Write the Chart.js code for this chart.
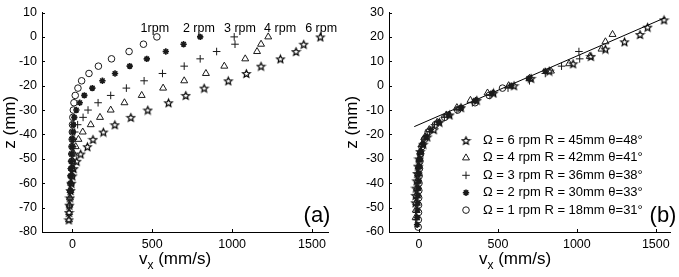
<!DOCTYPE html>
<html>
<head>
<meta charset="utf-8">
<script src="https://cdn.jsdelivr.net/npm/chart.js@4.4.1/dist/chart.umd.min.js"></script>
<style>
    html, body { margin: 0; padding: 0; background: #fff; }
    #wrap { position: relative; width: 679px; height: 277px; }
    .panel { position: absolute; top: 0; }
    #panelA { left: 0; }
    #panelB { left: 340px; }
</style>
</head>
<body>
<div id="wrap">
    <div class="panel" id="panelA"><canvas id="chartA" width="340" height="277"></canvas></div>
    <div class="panel" id="panelB"><canvas id="chartB" width="339" height="277"></canvas></div>
</div>
<script>
// depths (mm) of panel (a), same grid for every run
var zA = [0, -3, -6, -9, -12, -15, -18, -21, -24, -27, -30, -33, -36, -39, -42, -45, -48, -51, -54, -57, -60, -63, -66, -69, -72, -75];

// velocities vx (mm/s)
var v1rpm = [529, 445, 355, 245, 163, 104, 58, 35, 18, 10, 6, 3, 1, 0, -1, -2, -3, -3, -4, -5];
var v2rpm = [800, 696, 585, 466, 359, 267, 188, 125, 75, 46, 25, 12, 5, 2, 0, -2, -4, -6, -8, -10, -11, -12];
var v3rpm = [1013, 1018, 903, 800, 700, 564, 449, 338, 240, 161, 98, 67, 33, 15, 6, 2, -2, -5, -7, -9, -11, -13, -15, -17];
var v4rpm = [1226, 1181, 1156, 1082, 951, 836, 700, 568, 434, 326, 240, 173, 115, 65, 38, 21, 10, 3, -2, -6, -9, -12, -15, -18, -20, -21];
var v6rpm = [1552, 1448, 1400, 1302, 1181, 1089, 976, 825, 710, 602, 472, 366, 266, 194, 129, 94, 52, 27, 8, 0, -6, -11, -15, -19, -21, -22];

// depths of panel (b), each run moved onto the common line
var zB1 = [-1, -4, -7, -10, -13, -16, -19, -22, -25, -28, -31, -34, -37, -40, -43, -46, -49, -52, -55, -58];
var zB2 = [6, 3, 0, -3, -6, -9, -12, -15, -18, -21, -24, -27, -30, -33, -36, -39, -42, -45, -48, -51, -54, -57];
var zB3 = [14, 11, 8, 5, 2, -1, -4, -7, -10, -13, -16, -19, -22, -25, -28, -31, -34, -37, -40, -43, -46, -49, -52, -55];
var zB4 = [21, 18, 15, 12, 9, 6, 3, 0, -3, -6, -9, -12, -15, -18, -21, -24, -27, -30, -33, -36, -39, -42, -45, -48, -51, -54];
var zB6 = [27, 24, 21, 18, 15, 12, 9, 6, 3, 0, -3, -6, -9, -12, -15, -18, -21, -24, -27, -30, -33, -36, -39, -42, -45, -48];

// fitted line of panel (b)
var fitV = [-30, 1560];
var fitZ = [-16.8, 27.9];

var rpmLabels = ["1rpm", "2 rpm", "3 rpm", "4 rpm", "6 rpm"];
var rpmLabelV = [516, 792, 1049, 1300, 1557];
var rpmLabelZ = [3.6, 3.6, 3.6, 3.6, 3.6];

var legendLabels = [
    "\u03A9 = 6 rpm R = 45mm \u03B8=48\u00B0",
    "\u03A9 = 4 rpm R = 42mm \u03B8=41\u00B0",
    "\u03A9 = 3 rpm R = 36mm \u03B8=38\u00B0",
    "\u03A9 = 2 rpm R = 30mm \u03B8=33\u00B0",
    "\u03A9 = 1 rpm R = 18mm \u03B8=31\u00B0"
];

var xTicks = [0, 500, 1000, 1500];
var yTicksA = [10, 0, -10, -20, -30, -40, -50, -60, -70, -80];
var yTicksB = [30, 20, 10, 0, -10, -20, -30, -40, -50, -60];

var FONT = "'Liberation Sans', Arial, sans-serif";
var INK = '#1a1a1a';

function pts(v, z) {
    return v.map(function (x, i) { return { x: x, y: z[i] }; });
}

function makePentagram(r) {
    var s = Math.ceil(r * 2 + 3);
    var c = document.createElement('canvas');
    c.width = s; c.height = s;
    var g = c.getContext('2d');
    g.strokeStyle = '#000';
    g.lineWidth = 1.2;
    g.beginPath();
    for (var i = 0; i < 10; i++) {
        var rr = i % 2 ? r * 0.45 : r;
        var a = -Math.PI / 2 + i * Math.PI / 5;
        g.lineTo(s / 2 + rr * Math.cos(a), s / 2 + 0.5 + rr * Math.sin(a));
    }
    g.closePath();
    g.stroke();
    return c;
}
var pentagram = makePentagram(4);

var markers = [
    { pointStyle: 'circle', pointRadius: 3.3, pointBorderWidth: 1 },
    { pointStyle: 'star', pointRadius: 3.2, pointBorderWidth: 1.6 },
    { pointStyle: 'cross', pointRadius: 3.8, pointBorderWidth: 1 },
    { pointStyle: 'triangle', pointRadius: 4, pointBorderWidth: 1 },
    { pointStyle: pentagram, pointRadius: 4, pointBorderWidth: 1 }
];

function series(v, z, k) {
    var m = markers[k];
    return {
        data: pts(v, z),
        pointStyle: m.pointStyle,
        pointRadius: m.pointRadius,
        pointBorderWidth: m.pointBorderWidth,
        pointBorderColor: INK,
        pointBackgroundColor: 'rgba(0,0,0,0)',
        showLine: false
    };
}

function axis(min, max, ticks, isX, size) {
    return {
        type: 'linear',
        min: min,
        max: max,
        grid: { display: false, drawTicks: false },
        border: { display: true, color: '#000', width: 1 },
        afterBuildTicks: function (s) {
            s.ticks = ticks.map(function (t) { return { value: t }; });
        },
        afterFit: function (s) {
            if (isX) s.height = size; else s.width = size;
        },
        ticks: {
            color: '#000',
            font: { family: FONT, size: 12.5 },
            padding: 5,
            autoSkip: false,
            maxRotation: 0,
            callback: function (v) { return String(v); }
        }
    };
}

// small tick marks pointing into the plot, as in the original figure
var inwardTicks = {
    id: 'inwardTicks',
    afterDraw: function (chart) {
        var ctx = chart.ctx, a = chart.chartArea;
        var sx = chart.scales.x, sy = chart.scales.y;
        ctx.save();
        ctx.strokeStyle = '#000';
        ctx.lineWidth = 1;
        ctx.beginPath();
        sx.ticks.forEach(function (t) {
            var px = Math.round(sx.getPixelForValue(t.value)) + 0.5;
            ctx.moveTo(px, a.bottom);
            ctx.lineTo(px, a.bottom - 3);
        });
        sy.ticks.forEach(function (t) {
            var py = Math.round(sy.getPixelForValue(t.value)) + 0.5;
            ctx.moveTo(a.left, py);
            ctx.lineTo(a.left + 3, py);
        });
        ctx.stroke();
        ctx.restore();
    }
};

function drawTitles(chart, xCenter, zX, tag, tagX) {
    var ctx = chart.ctx, a = chart.chartArea;
    ctx.save();
    ctx.fillStyle = '#000';
    ctx.textBaseline = 'alphabetic';
    ctx.textAlign = 'left';
    var big = '17px ' + FONT, small = '12px ' + FONT;
    ctx.font = big;
    var w1 = ctx.measureText('v').width;
    var w3 = ctx.measureText(' (mm/s)').width;
    ctx.font = small;
    var w2 = ctx.measureText('x').width;
    var x0 = a.left + xCenter - (w1 + w2 + w3) / 2;
    var base = 264;
    ctx.font = big;
    ctx.fillText('v', x0, base);
    ctx.font = small;
    ctx.fillText('x', x0 + w1, base + 5);
    ctx.font = big;
    ctx.fillText(' (mm/s)', x0 + w1 + w2, base);

    ctx.save();
    ctx.translate(zX, (a.top + a.bottom) / 2);
    ctx.rotate(-Math.PI / 2);
    ctx.textAlign = 'center';
    ctx.textBaseline = 'middle';
    ctx.fillText('z (mm)', 0, 0);
    ctx.restore();

    ctx.font = '22px ' + FONT;
    ctx.textAlign = 'center';
    ctx.textBaseline = 'middle';
    ctx.fillText(tag, a.right + tagX, a.bottom - 16);
    ctx.restore();
}

var panelAText = {
    id: 'panelAText',
    afterDraw: function (chart) {
        var ctx = chart.ctx;
        var sx = chart.scales.x, sy = chart.scales.y;
        ctx.save();
        ctx.fillStyle = '#000';
        ctx.font = '12.5px ' + FONT;
        ctx.textAlign = 'center';
        ctx.textBaseline = 'middle';
        rpmLabels.forEach(function (t, i) {
            ctx.fillText(t, sx.getPixelForValue(rpmLabelV[i]), sy.getPixelForValue(rpmLabelZ[i]));
        });
        ctx.restore();
        drawTitles(chart, 133, 10, '(a)', -11);
    }
};

var panelBText = {
    id: 'panelBText',
    afterDraw: function (chart) {
        var ctx = chart.ctx, a = chart.chartArea;
        var order = [4, 3, 2, 1, 0];
        ctx.save();
        ctx.font = '13px ' + FONT;
        ctx.textAlign = 'left';
        ctx.textBaseline = 'middle';
        legendLabels.forEach(function (t, i) {
            var ds = chart.data.datasets[order[i]];
            var y = a.top + 128 + i * 17.4;
            ctx.strokeStyle = INK;
            ctx.fillStyle = 'rgba(0,0,0,0)';
            ctx.lineWidth = ds.pointBorderWidth;
            Chart.helpers.drawPoint(ctx, {
                pointStyle: ds.pointStyle,
                radius: ds.pointRadius,
                rotation: 0,
                borderWidth: ds.pointBorderWidth
            }, a.left + 77, y);
            ctx.fillStyle = '#000';
            ctx.fillText(t, a.left + 94, y);
        });
        ctx.restore();
        drawTitles(chart, 126, 12, '(b)', -7);
    }
};

var common = {
    responsive: false,
    animation: false,
    events: [],
    plugins: { legend: { display: false }, tooltip: { enabled: false } }
};

new Chart(document.getElementById('chartA').getContext('2d'), {
    type: 'scatter',
    data: {
        datasets: [
            series(v1rpm, zA, 0),
            series(v2rpm, zA, 1),
            series(v3rpm, zA, 2),
            series(v4rpm, zA, 3),
            series(v6rpm, zA, 4)
        ]
    },
    options: Object.assign({}, common, {
        layout: { padding: { top: 7, right: 12, left: 0, bottom: 0 } },
        scales: {
            x: axis(-190, 1600, xTicks, true, 45),
            y: axis(-80, 10, yTicksA, false, 42)
        }
    }),
    plugins: [inwardTicks, panelAText]
});

new Chart(document.getElementById('chartB').getContext('2d'), {
    type: 'scatter',
    data: {
        datasets: [
            series(v1rpm, zB1, 0),
            series(v2rpm, zB2, 1),
            series(v3rpm, zB3, 2),
            series(v4rpm, zB4, 3),
            series(v6rpm, zB6, 4),
            {
                data: pts(fitV, fitZ),
                showLine: true,
                borderColor: '#000',
                borderWidth: 1,
                pointRadius: 0
            }
        ]
    },
    options: Object.assign({}, common, {
        layout: { padding: { top: 9, right: 9, left: 0, bottom: 0 } },
        scales: {
            x: axis(-190, 1590, xTicks, true, 45),
            y: axis(-60, 30, yTicksB, false, 49)
        }
    }),
    plugins: [inwardTicks, panelBText]
});
</script>
</body>
</html>
